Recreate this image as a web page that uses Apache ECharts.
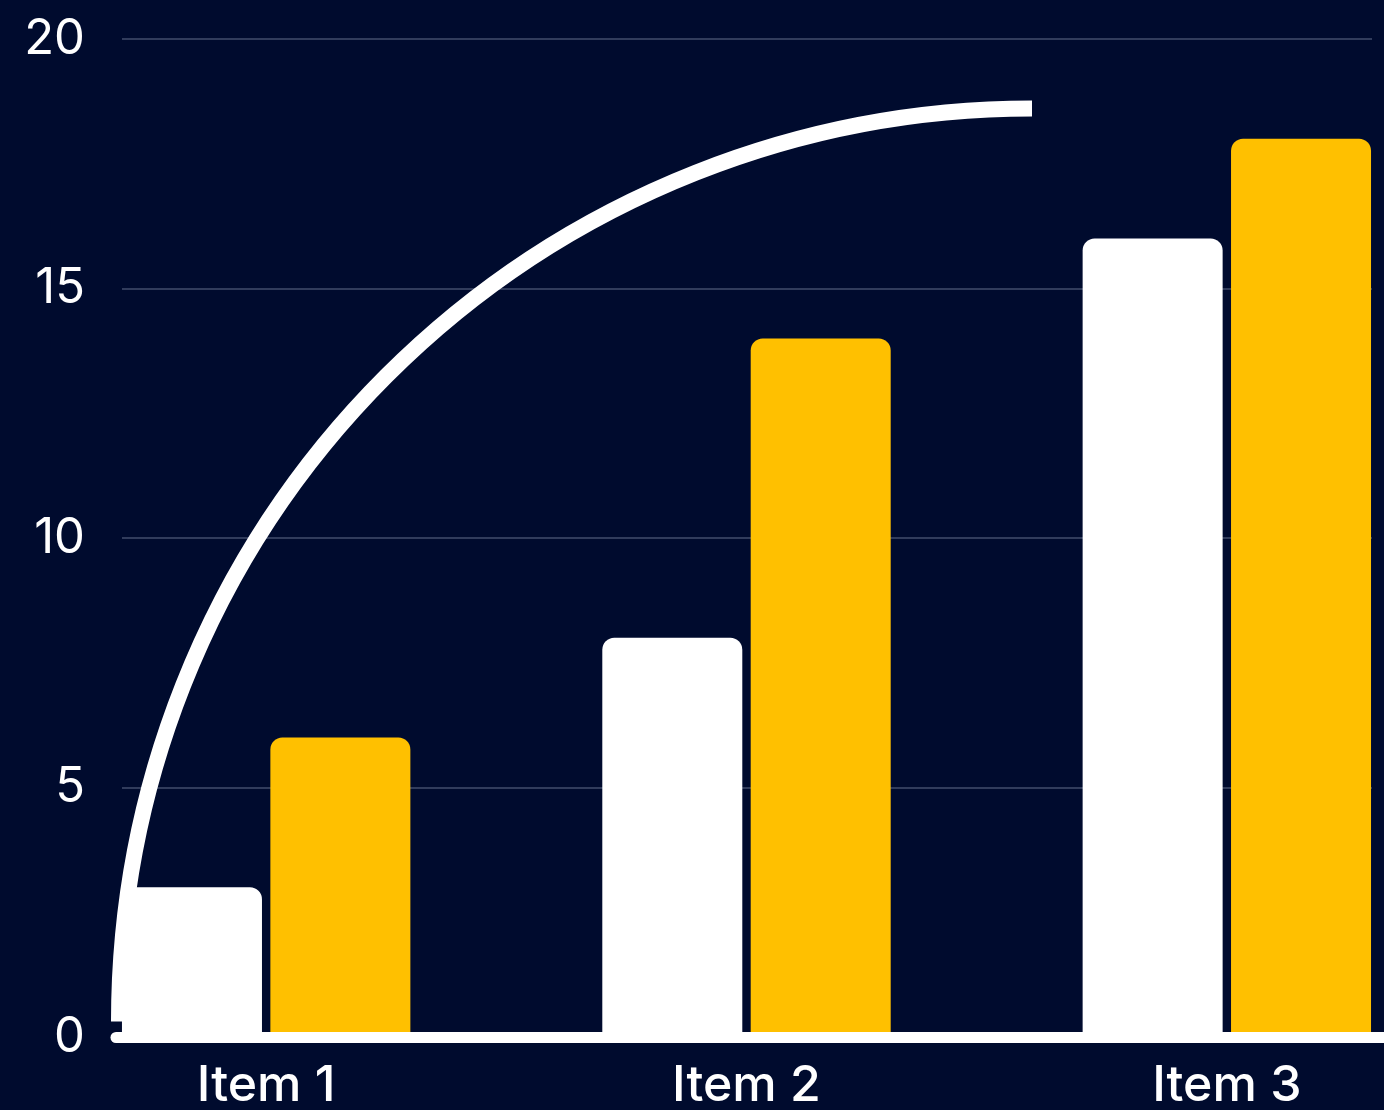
<!DOCTYPE html>
<html>
<head>
<meta charset="utf-8">
<style>
  html, body { margin: 0; padding: 0; background: #000b2e; }
  #chart { width: 1384px; height: 1110px; }
</style>
<script src="https://cdn.jsdelivr.net/npm/echarts@6/dist/echarts.min.js"></script>
</head>
<body>
<div id="chart"></div>
<script>
const categories = ['Item 1', 'Item 2', 'Item 3'];
const seriesWhite = [3, 8, 16];
const seriesYellow = [6, 14, 18];
const yTicks = { min: 0, max: 20, interval: 5 };

const chart = echarts.init(document.getElementById('chart'), null, { renderer: 'canvas' });
const FONT = 'Inter, "Noto Sans", sans-serif';

const option = {
  backgroundColor: '#000b2e',
  animation: false,
  grid: [
    { left: 122, right: 12, top: 39, bottom: 73, outerBoundsMode: 'none' },
    { left: 26, right: -83, top: 39, bottom: 73, outerBoundsMode: 'none' },
    { left: 116, right: -300, top: 39, bottom: 73, outerBoundsMode: 'none' }
  ],
  xAxis: [
    { gridIndex: 0, type: 'category', data: categories, show: false },
    {
      gridIndex: 1, type: 'category', data: categories,
      axisLine: { show: false }, axisTick: { show: false },
      axisLabel: { color: '#ffffff', fontSize: 50, fontFamily: FONT, margin: 24, fontWeight: 500 }
    },
    {
      gridIndex: 2, type: 'value', min: 0, max: 1, z: 10,
      axisLine: { show: true, lineStyle: { color: '#ffffff', width: 11, cap: 'round' } },
      axisTick: { show: false }, axisLabel: { show: false }, splitLine: { show: false }
    }
  ],
  yAxis: [
    {
      gridIndex: 0, type: 'value', min: yTicks.min, max: yTicks.max, interval: yTicks.interval,
      axisLine: { show: false }, axisTick: { show: false },
      axisLabel: { color: '#ffffff', fontSize: 49, fontFamily: FONT, margin: 37 },
      splitLine: { lineStyle: { color: 'rgba(110,120,150,0.6)', width: 1.5 } }
    },
    { gridIndex: 1, type: 'value', min: yTicks.min, max: yTicks.max, show: false, splitLine: { show: false } },
    { gridIndex: 2, type: 'value', min: yTicks.min, max: yTicks.max, show: false, splitLine: { show: false } }
  ],
  series: [
    {
      type: 'bar', xAxisIndex: 1, yAxisIndex: 1, data: seriesWhite,
      barWidth: 140, barGap: '6%',
      itemStyle: { color: '#ffffff', borderRadius: [12, 12, 0, 0] }
    },
    {
      type: 'bar', xAxisIndex: 1, yAxisIndex: 1, data: seriesYellow,
      barWidth: 140, barGap: '6%',
      itemStyle: { color: '#ffc000', borderRadius: [12, 12, 0, 0] }
    }
  ],
  graphic: [
    {
      type: 'arc', z: 5, silent: true,
      shape: { cx: 1032, cy: 1021.5, r: 913, startAngle: Math.PI, endAngle: Math.PI * 1.5, clockwise: true },
      style: { stroke: '#ffffff', fill: 'none', lineWidth: 16, lineCap: 'butt' }
    }
  ]
};
chart.setOption(option);
</script>
</body>
</html>
